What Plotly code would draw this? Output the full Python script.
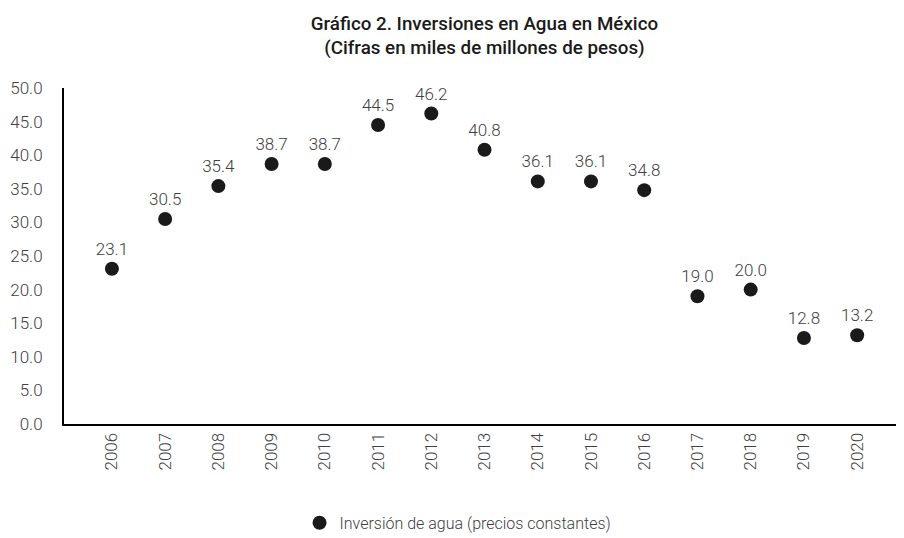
import plotly.graph_objects as go

years = ["2006", "2007", "2008", "2009", "2010", "2011", "2012", "2013",
         "2014", "2015", "2016", "2017", "2018", "2019", "2020"]
inversion = [23.1, 30.5, 35.4, 38.7, 38.7, 44.5, 46.2, 40.8,
             36.1, 36.1, 34.8, 19.0, 20.0, 12.8, 13.2]
y_ticks = [0, 5, 10, 15, 20, 25, 30, 35, 40, 45, 50]
y_tick_labels = [f"{v:.1f}" for v in y_ticks]
data_labels = [f"{v:.1f}" for v in inversion]

light = dict(family="Roboto", size=17, color="#404040", weight=300)

fig = go.Figure()
fig.add_trace(go.Scatter(
    x=years, y=inversion, mode="markers+text",
    name="Inversión de agua (precios constantes)",
    marker=dict(color="#1a1a1a", size=14),
    text=data_labels, textposition="top center",
    textfont=light,
    cliponaxis=False,
))

fig.update_layout(
    width=904, height=538,
    margin=dict(l=56, r=8, t=80, b=122),
    paper_bgcolor="white", plot_bgcolor="white",
    font=dict(family="Roboto", color="#404040"),
    title=dict(
        text="Gráfico 2. Inversiones en Agua en México<br>(Cifras en miles de millones de pesos)",
        x=0.527, xanchor="center", y=0.960, yanchor="middle",
        font=dict(family="Roboto", size=18.8, color="#1a1a1a", weight=500),
    ),
    showlegend=True,
    legend=dict(
        orientation="h", xref="container", yref="container",
        x=0.3225, xanchor="left", y=0.043, yanchor="middle",
        font=dict(family="Roboto", size=16, color="#404040", weight=300),
        bgcolor="rgba(0,0,0,0)",
    ),
    xaxis=dict(
        type="category", range=[-0.9, 14.88],
        showline=True, linecolor="#000000", linewidth=2,
        showgrid=False, ticks="", tickangle=-90,
        tickfont=light, zeroline=False, automargin=False,
    ),
    yaxis=dict(
        range=[0, 50], tickvals=y_ticks, ticktext=y_tick_labels,
        showline=True, linecolor="#000000", linewidth=2,
        showgrid=False, ticks="", zeroline=False,
        ticklabelstandoff=16, automargin=False,
        tickfont=light,
    ),
)

fig.write_html("out.html")
